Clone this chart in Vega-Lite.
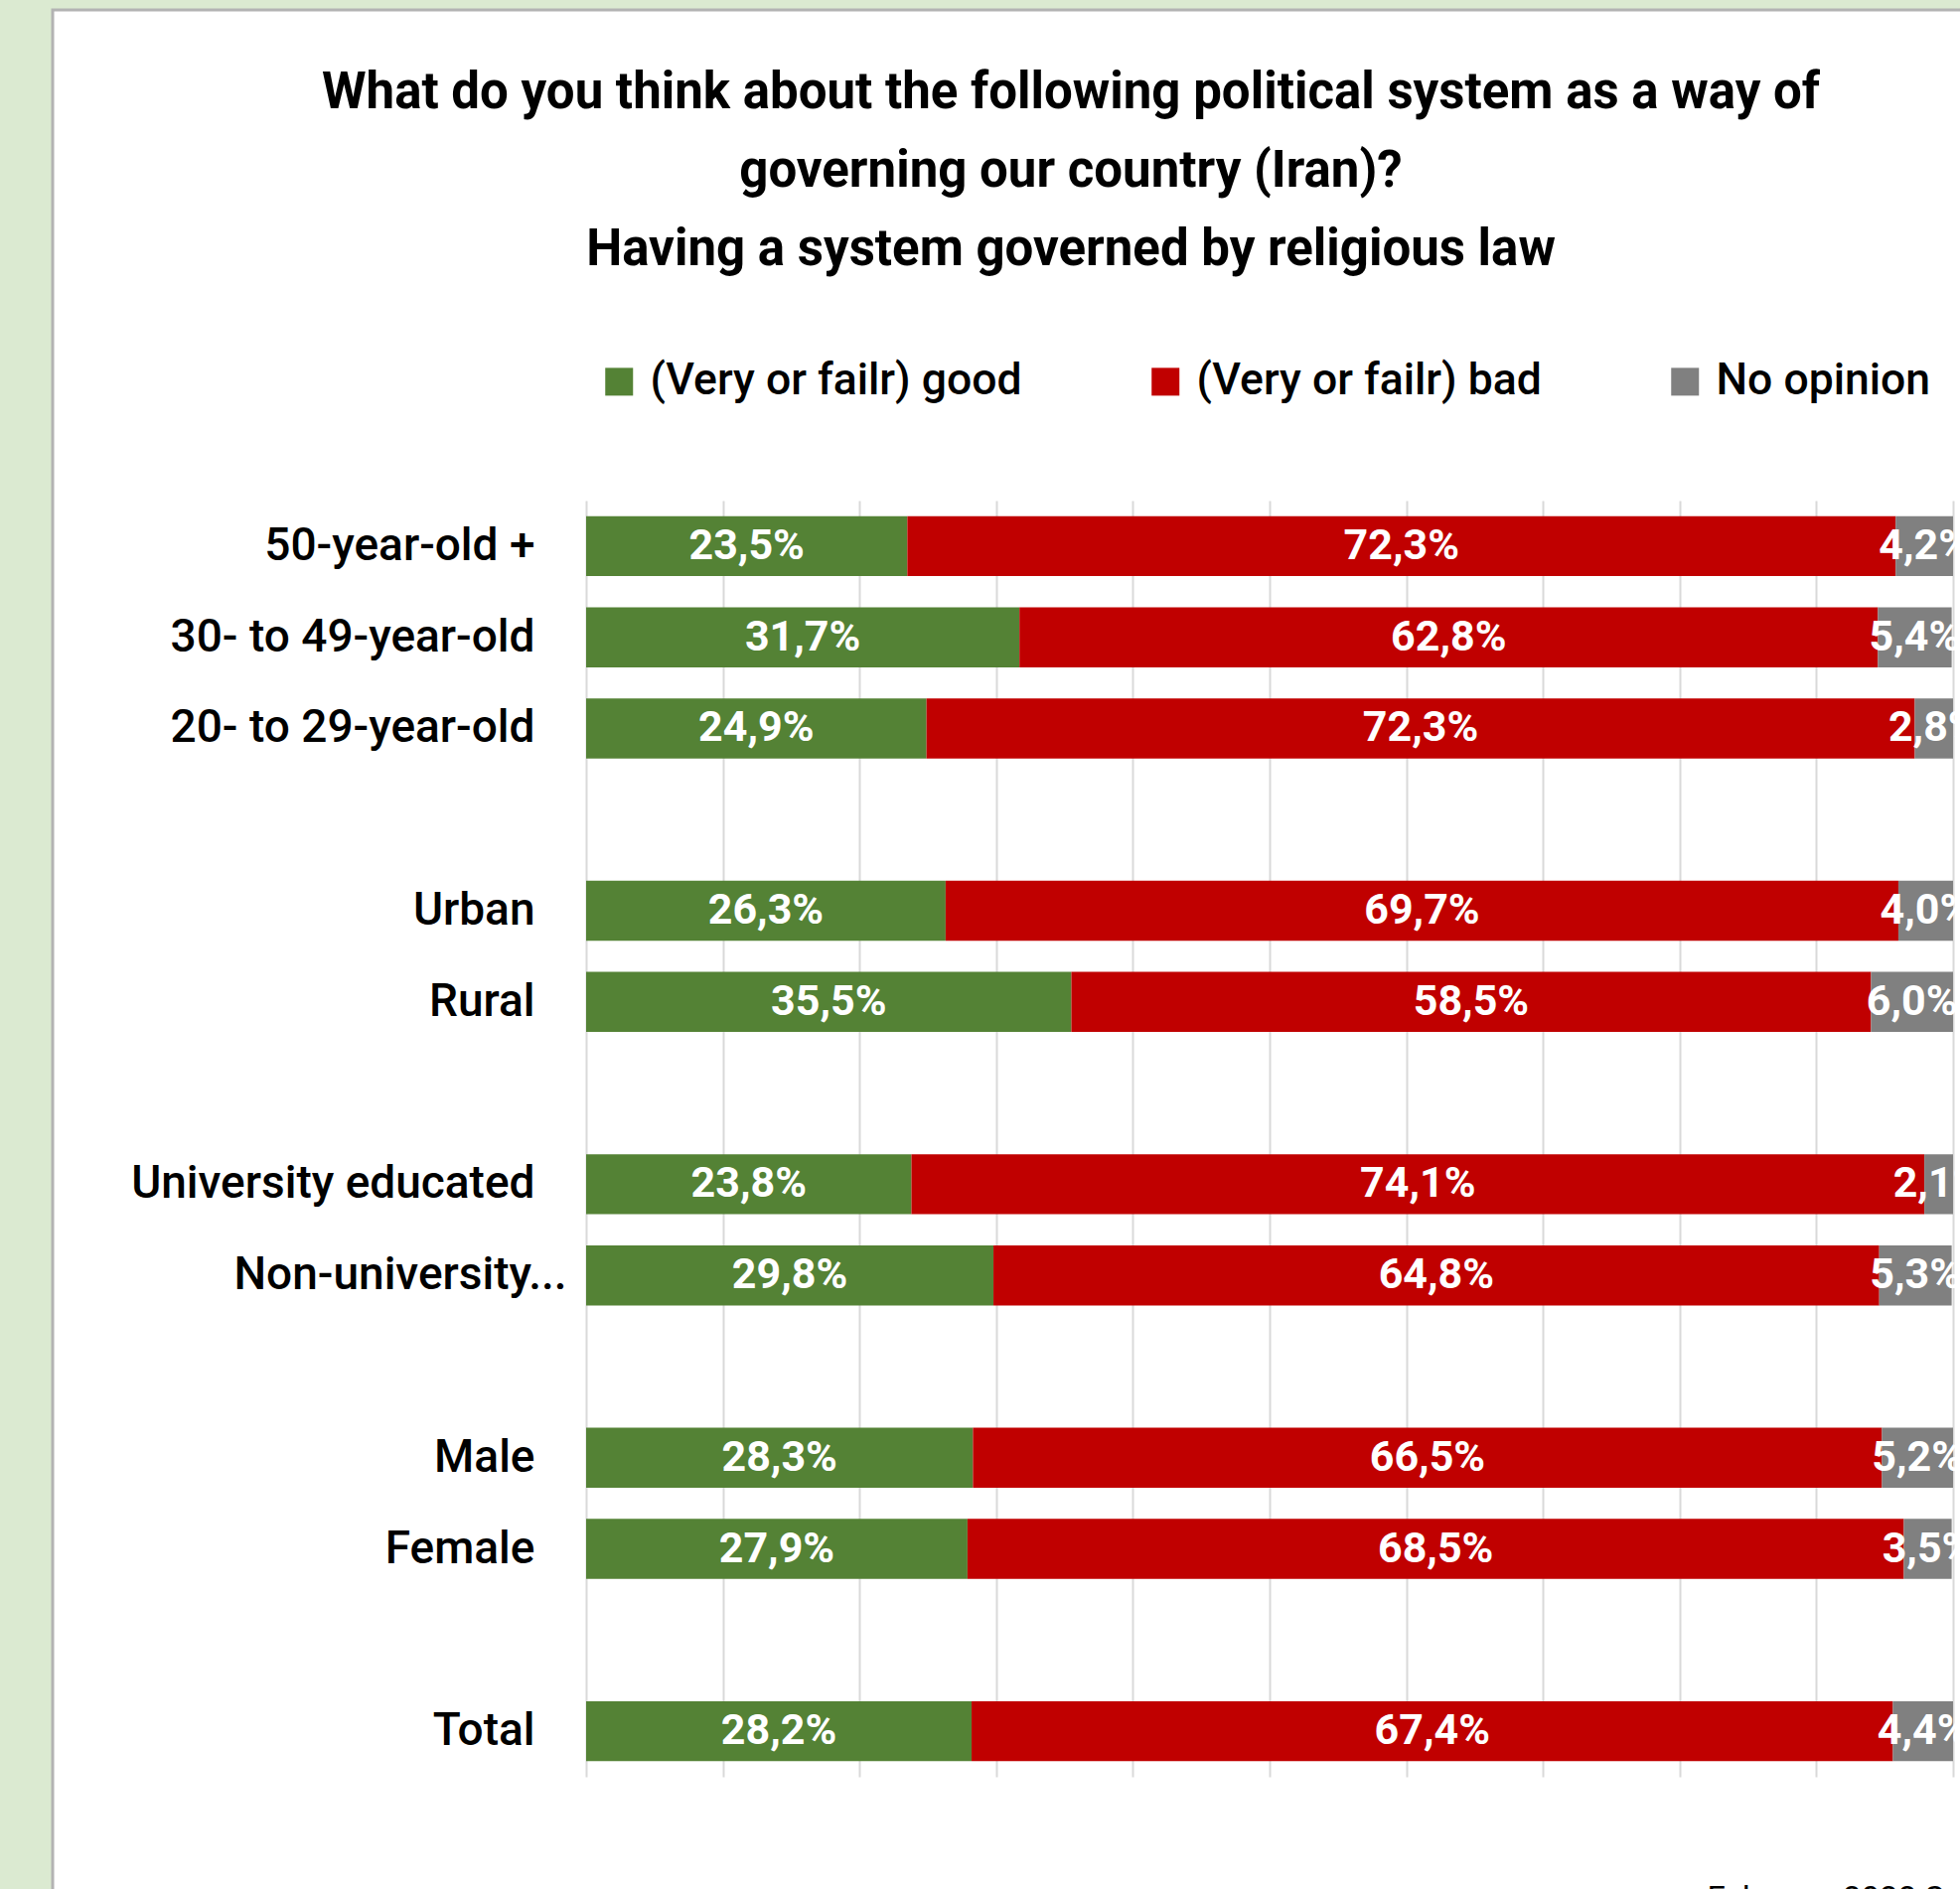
{
  "$schema": "https://vega.github.io/schema/vega-lite/v6.json",
  "width": 1924,
  "height": 1896,
  "autosize": {"type": "none"},
  "padding": {"left": 53, "top": 10, "right": -4, "bottom": -4},
  "background": "#dbead1",
  "title": {
    "text": ["What do you think about the following political system as a way of", "governing our country (Iran)?", "Having a system governed by religious law"],
    "anchor": "middle",
    "frame": "group",
    "dx": 63,
    "offset": -268,
    "baseline": "top",
    "fontSize": 51,
    "fontWeight": "bold",
    "font": "Roboto",
    "lineHeight": 79,
    "color": "#000000"
  },
  "data": {
    "values": [
      {"g": "50-year-old +", "r": "(Very or failr) good", "v": 0.235, "k": 1},
      {"g": "50-year-old +", "r": "(Very or failr) bad", "v": 0.723, "k": 2},
      {"g": "50-year-old +", "r": "No opinion", "v": 0.042, "k": 3},
      {"g": "30- to 49-year-old", "r": "(Very or failr) good", "v": 0.317, "k": 1},
      {"g": "30- to 49-year-old", "r": "(Very or failr) bad", "v": 0.628, "k": 2},
      {"g": "30- to 49-year-old", "r": "No opinion", "v": 0.054, "k": 3},
      {"g": "20- to 29-year-old", "r": "(Very or failr) good", "v": 0.249, "k": 1},
      {"g": "20- to 29-year-old", "r": "(Very or failr) bad", "v": 0.723, "k": 2},
      {"g": "20- to 29-year-old", "r": "No opinion", "v": 0.028, "k": 3},
      {"g": "Urban", "r": "(Very or failr) good", "v": 0.263, "k": 1},
      {"g": "Urban", "r": "(Very or failr) bad", "v": 0.697, "k": 2},
      {"g": "Urban", "r": "No opinion", "v": 0.040, "k": 3},
      {"g": "Rural", "r": "(Very or failr) good", "v": 0.355, "k": 1},
      {"g": "Rural", "r": "(Very or failr) bad", "v": 0.585, "k": 2},
      {"g": "Rural", "r": "No opinion", "v": 0.060, "k": 3},
      {"g": "University educated", "r": "(Very or failr) good", "v": 0.238, "k": 1},
      {"g": "University educated", "r": "(Very or failr) bad", "v": 0.741, "k": 2},
      {"g": "University educated", "r": "No opinion", "v": 0.021, "k": 3},
      {"g": "Non-university...", "r": "(Very or failr) good", "v": 0.298, "k": 1},
      {"g": "Non-university...", "r": "(Very or failr) bad", "v": 0.648, "k": 2},
      {"g": "Non-university...", "r": "No opinion", "v": 0.053, "k": 3},
      {"g": "Male", "r": "(Very or failr) good", "v": 0.283, "k": 1},
      {"g": "Male", "r": "(Very or failr) bad", "v": 0.665, "k": 2},
      {"g": "Male", "r": "No opinion", "v": 0.052, "k": 3},
      {"g": "Female", "r": "(Very or failr) good", "v": 0.279, "k": 1},
      {"g": "Female", "r": "(Very or failr) bad", "v": 0.685, "k": 2},
      {"g": "Female", "r": "No opinion", "v": 0.035, "k": 3},
      {"g": "Total", "r": "(Very or failr) good", "v": 0.282, "k": 1},
      {"g": "Total", "r": "(Very or failr) bad", "v": 0.674, "k": 2},
      {"g": "Total", "r": "No opinion", "v": 0.044, "k": 3}
    ]
  },
  "encoding": {
    "y": {
      "field": "g",
      "type": "nominal",
      "scale": {
        "domain": ["50-year-old +", "30- to 49-year-old", "20- to 29-year-old", "gap1", "Urban", "Rural", "gap2", "University educated", "Non-university...", "gap3", "Male", "Female", "gap4", "Total"],
        "range": [494, 1779],
        "paddingInner": 0.342,
        "paddingOuter": 0.171
      },
      "axis": {
        "title": null,
        "orient": "left",
        "offset": -537,
        "domain": false,
        "ticks": false,
        "tickSize": 0,
        "grid": false,
        "labelPadding": {"condition": {"test": "datum.value == 'Non-university...'", "value": 20}, "value": 52},
        "labelFontSize": 46,
        "labelFont": "Roboto",
        "labelFontWeight": 500,
        "labelColor": "#000000",
        "labelLimit": 700,
        "labelExpr": "indexof(datum.label, 'gap') == 0 ? '' : datum.label"
      }
    }
  },
  "layer": [
    {
      "mark": {"type": "bar"},
      "encoding": {
        "x": {
          "field": "v",
          "type": "quantitative",
          "stack": "zero",
          "scale": {"domain": [0, 1], "range": [537, 1913]},
          "axis": {
            "orient": "top",
            "values": [0, 0.1, 0.2, 0.3, 0.4, 0.5, 0.6, 0.7, 0.8, 0.9, 1],
            "grid": true,
            "gridColor": "#d9d9d9",
            "gridWidth": 2,
            "labels": false,
            "ticks": false,
            "domain": false,
            "title": "February 2022 Survey",
            "titleX": 1665,
            "titleY": 1912,
            "titleAlign": "left",
            "titleBaseline": "alphabetic",
            "titleAngle": 0,
            "titleFontSize": 33,
            "titleFontWeight": "normal",
            "titleFont": "Roboto",
            "titleColor": "#000000"
          }
        },
        "color": {
          "field": "r",
          "type": "nominal",
          "scale": {
            "domain": ["(Very or failr) good", "(Very or failr) bad", "No opinion"],
            "range": ["#548235", "#c00000", "#808080"]
          },
          "legend": {
            "orient": "none",
            "legendX": 548,
            "legendY": 352,
            "direction": "horizontal",
            "title": null,
            "symbolType": "square",
            "symbolSize": 784,
            "symbolStrokeWidth": 0,
            "symbolOpacity": 1,
            "labelFontSize": 44.5,
            "labelFont": "Roboto",
            "labelFontWeight": 500,
            "labelColor": "#000000",
            "labelLimit": 700,
            "labelOffset": 9,
            "columnPadding": 122,
            "padding": 0
          }
        },
        "order": {"field": "k"}
      }
    },
    {
      "mark": {"type": "text", "color": "#ffffff", "fontWeight": "bold", "fontSize": 43, "font": "Roboto", "baseline": "middle", "align": "center"},
      "encoding": {
        "x": {"field": "v", "type": "quantitative", "stack": "zero", "bandPosition": 0.5},
        "detail": {"field": "r"},
        "order": {"field": "k"},
        "text": {"field": "v", "type": "quantitative", "format": ".1%"}
      }
    }
  ],
  "config": {
    "locale": {"number": {"decimal": ",", "thousands": ".", "grouping": [3], "currency": ["", " €"]}},
    "view": {"fill": "#ffffff", "stroke": "#b3b3b3", "strokeWidth": 3}
  }
}
